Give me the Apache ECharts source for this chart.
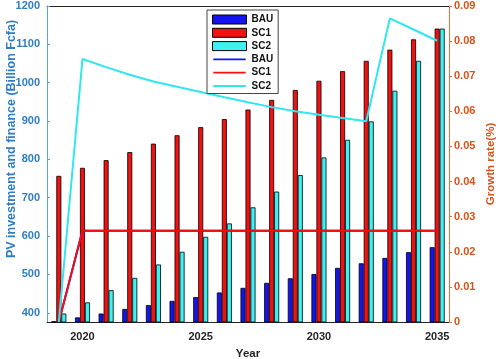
<!DOCTYPE html>
<html>
<head>
<meta charset="utf-8">
<script src="https://cdn.jsdelivr.net/npm/echarts@6/dist/echarts.min.js"></script>
<style>
  html, body { margin: 0; padding: 0; background: #fff; }
  #chart { width: 498px; height: 359px; }
</style>
</head>
<body>
<div id="chart"></div>
<script>
var years = ['2019', '2020', '2021', '2022', '2023', '2024', '2025', '2026', '2027',
             '2028', '2029', '2030', '2031', '2032', '2033', '2034', '2035'];

// investment (Billion Fcfa), left axis
var bauInvest = [378, 388, 398, 410, 420, 431, 441, 453, 465, 478, 490, 501, 517, 529, 543, 558, 571];
var sc1Invest = [757, 778, 798, 819, 841, 863, 884, 905, 930, 955, 981, 1005, 1030, 1057, 1086, 1113, 1141];
var sc2Invest = [398, 427, 459, 491, 526, 559, 598, 633, 675, 716, 759, 805, 851, 899, 979, 1057, 1141];

// growth rate, right axis
var bauRate = [0, 0.026, 0.026, 0.026, 0.026, 0.026, 0.026, 0.026, 0.026, 0.026, 0.026, 0.026, 0.026, 0.026, 0.026, 0.026, 0.026];
var sc1Rate = [0, 0.026, 0.026, 0.026, 0.026, 0.026, 0.026, 0.026, 0.026, 0.026, 0.026, 0.026, 0.026, 0.026, 0.026, 0.026, 0.026];
var sc2Rate = [0, 0.0749, 0.0726, 0.0704, 0.0685, 0.0670, 0.0655, 0.0640, 0.0626, 0.0612, 0.0600, 0.0590, 0.0581, 0.0572, 0.0865, 0.0833, 0.0801];

var blue = '#1414f0', red = '#f21010', cyan = '#3cf2f2', cyanLine = '#30e6f0';
var leftColor = '#2f7ec4', rightColor = '#d95319', dark = '#262626';
var font = 'Liberation Sans';

// legend icon for the line series: a thin bar in a 36x10 box
var lineIcon = 'path://M0,0L0.01,0L0.01,0.01ZM0,4L36,4L36,6L0,6ZM0,10L0.01,10L0.01,9.99Z';

var fiveYears = function (i, v) { return Number(v) % 5 === 0; };

var chart = echarts.init(document.getElementById('chart'));

var barStyle = function (c) {
    return { color: c, borderColor: '#000', borderWidth: 0.8 };
};

var option = {
    animation: false,
    textStyle: { fontFamily: font },
    grid: { left: 47, right: 49, top: 6, bottom: 37, outerBoundsMode: 'none', containLabel: false },
    legend: {
        orient: 'vertical',
        left: 207,
        top: 10,
        padding: [4, 5, 2, 5],
        itemWidth: 34,
        itemHeight: 9,
        itemGap: 2.3,
        backgroundColor: '#fff',
        borderColor: '#444',
        borderWidth: 1,
        formatter: function (name) { return name.trim(); },
        textStyle: { fontFamily: font, fontWeight: 'bold', fontSize: 10, color: '#111', lineHeight: 11 },
        data: [
            { name: 'BAU', icon: 'rect', itemStyle: { borderWidth: 1, borderColor: '#000' } },
            { name: 'SC1', icon: 'rect', itemStyle: { borderWidth: 1, borderColor: '#000' } },
            { name: 'SC2', icon: 'rect', itemStyle: { borderWidth: 1, borderColor: '#000' } },
            { name: 'BAU ', icon: lineIcon },
            { name: 'SC1 ', icon: lineIcon },
            { name: 'SC2 ', icon: lineIcon }
        ]
    },
    xAxis: [{
        type: 'category',
        data: years,
        name: 'Year',
        nameLocation: 'middle',
        nameGap: 26,
        nameMoveOverlap: false,
        nameTextStyle: { fontFamily: font, fontWeight: 'bold', fontSize: 11.5, color: dark },
        axisLine: { lineStyle: { color: dark, width: 1 } },
        axisTick: { inside: true, length: 4, alignWithLabel: true, interval: fiveYears, lineStyle: { color: dark } },
        axisLabel: { interval: fiveYears, margin: 9, fontFamily: font, fontWeight: 'bold', fontSize: 11, color: dark },
        splitLine: { show: false }
    }, {
        type: 'category',
        data: years,
        position: 'top',
        axisLine: { lineStyle: { color: dark, width: 1 } },
        axisTick: { inside: true, length: 4, alignWithLabel: true, interval: fiveYears, lineStyle: { color: dark } },
        axisLabel: { show: false },
        splitLine: { show: false }
    }],
    yAxis: [{
        type: 'value',
        min: 376,
        max: 1200,
        splitNumber: 8,
        name: 'PV investment and finance (Billion Fcfa)',
        nameLocation: 'middle',
        nameGap: 29,
        nameMoveOverlap: false,
        nameTextStyle: { fontFamily: font, fontWeight: 'bold', fontSize: 12.5, color: leftColor, padding: [0, 0, 0, 50] },
        axisLine: { show: true, lineStyle: { color: '#5aa2e2', width: 1 } },
        axisTick: { show: true, inside: true, length: 3, lineStyle: { color: '#5aa2e2' } },
        axisLabel: {
            showMinLabel: false, margin: 7, fontFamily: font, fontWeight: 'bold', fontSize: 11, color: leftColor,
            formatter: function (v) { return String(v); }
        },
        splitLine: { show: false }
    }, {
        type: 'value',
        min: 0,
        max: 0.09,
        interval: 0.01,
        position: 'right',
        name: 'Growth rate(%)',
        nameLocation: 'middle',
        nameRotate: 90,
        nameGap: 36,
        nameMoveOverlap: false,
        nameTextStyle: { fontFamily: font, fontWeight: 'bold', fontSize: 11.5, color: rightColor },
        axisLine: { show: true, lineStyle: { color: '#e0703c', width: 1 } },
        axisTick: { show: true, length: 3, lineStyle: { color: '#e0703c' } },
        axisLabel: {
            margin: 5, fontFamily: font, fontWeight: 'bold', fontSize: 11, color: rightColor,
            formatter: function (v) { return v === 0 ? '0' : v.toFixed(2); }
        },
        splitLine: { show: false }
    }],
    series: [
        { name: 'BAU', type: 'bar', data: bauInvest, barWidth: 5, barGap: '0%', itemStyle: barStyle(blue) },
        { name: 'SC1', type: 'bar', data: sc1Invest, barWidth: 5, barGap: '0%', itemStyle: barStyle(red) },
        { name: 'SC2', type: 'bar', data: sc2Invest, barWidth: 5, barGap: '0%', itemStyle: barStyle(cyan) },
        { name: 'BAU ', type: 'line', yAxisIndex: 1, data: bauRate, symbol: 'none', lineStyle: { color: blue, width: 2 }, itemStyle: { color: blue } },
        { name: 'SC1 ', type: 'line', yAxisIndex: 1, data: sc1Rate, symbol: 'none', lineStyle: { color: red, width: 2 }, itemStyle: { color: red } },
        { name: 'SC2 ', type: 'line', yAxisIndex: 1, data: sc2Rate, symbol: 'none', lineStyle: { color: cyanLine, width: 2 }, itemStyle: { color: cyanLine } }
    ]
};

chart.setOption(option);
</script>
</body>
</html>
